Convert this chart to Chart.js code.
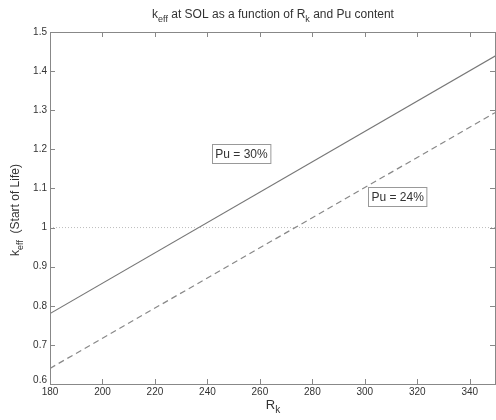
<!DOCTYPE html>
<html><head><meta charset="utf-8">
<script src="https://cdn.jsdelivr.net/npm/chart.js@4.4.0/dist/chart.umd.min.js"></script>
<style>html,body{margin:0;padding:0;background:#fff;}#wrap{width:496px;height:420px;}</style>
</head><body><div id="wrap"><canvas id="c" width="496" height="420"></canvas></div>
<script>
const rk = [180, 350];
const pu30 = [0.78, 1.44];
const pu24 = [0.64, 1.295];
const refLine = [1.0, 1.0];
const xTicks = [180, 200, 220, 240, 260, 280, 300, 320, 340];
const yTicks = [0.6, 0.7, 0.8, 0.9, 1.0, 1.1, 1.2, 1.3, 1.4, 1.5];
const labels = [
  {text: 'Pu = 30%', x: 253, y: 1.19},
  {text: 'Pu = 24%', x: 312.5, y: 1.08}
];

const FONT = '"Liberation Sans", Arial, sans-serif';
const TXT = '#333';
const AX = '#888';

function pts(ys){ return rk.map((x,i)=>({x:x, y:ys[i]})); }

function drawSub(ctx, parts, x, y, align, size){
  let total = 0;
  const widths = parts.map(p=>{
    ctx.font = (p[1]? Math.round(size*0.75) : size) + 'px ' + FONT;
    const w = ctx.measureText(p[0]).width; total += w; return w;
  });
  let cx = align === 'center' ? x - total/2 : x;
  parts.forEach((p,i)=>{
    ctx.font = (p[1]? Math.round(size*0.75) : size) + 'px ' + FONT;
    ctx.textAlign = 'left';
    ctx.textBaseline = 'middle';
    ctx.fillText(p[0], cx, p[1] ? y + size*0.4 : y);
    cx += widths[i];
  });
  return total;
}

const deco = {
  id: 'deco',
  afterDraw(chart){
    const ctx = chart.ctx, a = chart.chartArea;
    const xs = chart.scales.x, ys = chart.scales.y;
    ctx.save();
    ctx.strokeStyle = AX; ctx.lineWidth = 1;
    ctx.strokeRect(Math.round(a.left)+0.5, Math.round(a.top)+0.5, Math.round(a.right-a.left)-1, Math.round(a.bottom-a.top));
    ctx.beginPath();
    xTicks.forEach(v=>{
      const px = Math.round(xs.getPixelForValue(v))+0.5;
      ctx.moveTo(px, a.bottom); ctx.lineTo(px, a.bottom-5);
      ctx.moveTo(px, a.top); ctx.lineTo(px, a.top+5);
    });
    yTicks.forEach(v=>{
      const py = Math.round(ys.getPixelForValue(v))+0.5;
      ctx.moveTo(a.left, py); ctx.lineTo(a.left+5, py);
      ctx.moveTo(a.right-1, py); ctx.lineTo(a.right-6, py);
    });
    ctx.stroke();
    ctx.fillStyle = TXT; ctx.font = '10px ' + FONT;
    ctx.textAlign = 'right'; ctx.textBaseline = 'middle';
    yTicks.forEach(v=>{
      const py = ys.getPixelForValue(v);
      ctx.fillText(String(Math.round(v*10)/10), a.left-3, v===0.6 ? py-4 : py);
    });
    ctx.textAlign = 'center'; ctx.textBaseline = 'top';
    xTicks.forEach(v=>{
      const px = xs.getPixelForValue(v);
      ctx.fillText(String(v), px, a.bottom+3);
    });
    ctx.font = '12px ' + FONT;
    labels.forEach(l=>{
      const px = xs.getPixelForValue(l.x), py = ys.getPixelForValue(l.y);
      const w = ctx.measureText(l.text).width + 6, h = 19;
      const bx = Math.round(px - w/2)+0.5, by = Math.round(py - h/2)+0.5;
      ctx.fillStyle = '#fff'; ctx.fillRect(bx, by, w, h);
      ctx.strokeStyle = '#999'; ctx.strokeRect(bx, by, w, h);
      ctx.fillStyle = TXT; ctx.textAlign = 'center'; ctx.textBaseline = 'middle';
      ctx.fillText(l.text, px, py+1);
    });
    ctx.fillStyle = TXT;
    const cxm = (a.left + a.right)/2;
    drawSub(ctx, [['k',false],['eff',true],[' at SOL as a function of R',false],['k',true],[' and Pu content',false]], cxm, 15, 'center', 12);
    drawSub(ctx, [['R',false],['k',true]], cxm, 405, 'center', 13);
    ctx.save();
    ctx.translate(16, (a.top + a.bottom)/2 + 2);
    ctx.rotate(-Math.PI/2);
    drawSub(ctx, [['k',false],['eff',true],['  (Start of Life)',false]], 0, 0, 'center', 12);
    ctx.restore();
    ctx.restore();
  }
};

new Chart(document.getElementById('c'), {
  type: 'scatter',
  data: {
    datasets: [
      {data: pts(refLine), showLine: true, borderColor: '#bdbdbd', borderWidth: 1, borderDash: [1,2], pointRadius: 0},
      {data: pts(pu30), showLine: true, borderColor: '#777', borderWidth: 1.2, pointRadius: 0},
      {data: pts(pu24), showLine: true, borderColor: '#888', borderWidth: 1.2, borderDash: [6,4], pointRadius: 0}
    ]
  },
  options: {
    responsive: false, animation: false, devicePixelRatio: 1,
    layout: {padding: {top: 32, right: 0, left: 0, bottom: 0}},
    plugins: {legend: {display: false}, tooltip: {enabled: false}, title: {display: false}},
    scales: {
      x: {type: 'linear', min: 180, max: 350,
          grid: {display: false}, border: {display: false},
          ticks: {display: false},
          afterFit(s){ s.height = 36; }},
      y: {type: 'linear', min: 0.6, max: 1.5,
          grid: {display: false}, border: {display: false},
          ticks: {display: false},
          afterFit(s){ s.width = 50; }}
    }
  },
  plugins: [deco]
});
</script></body></html>
